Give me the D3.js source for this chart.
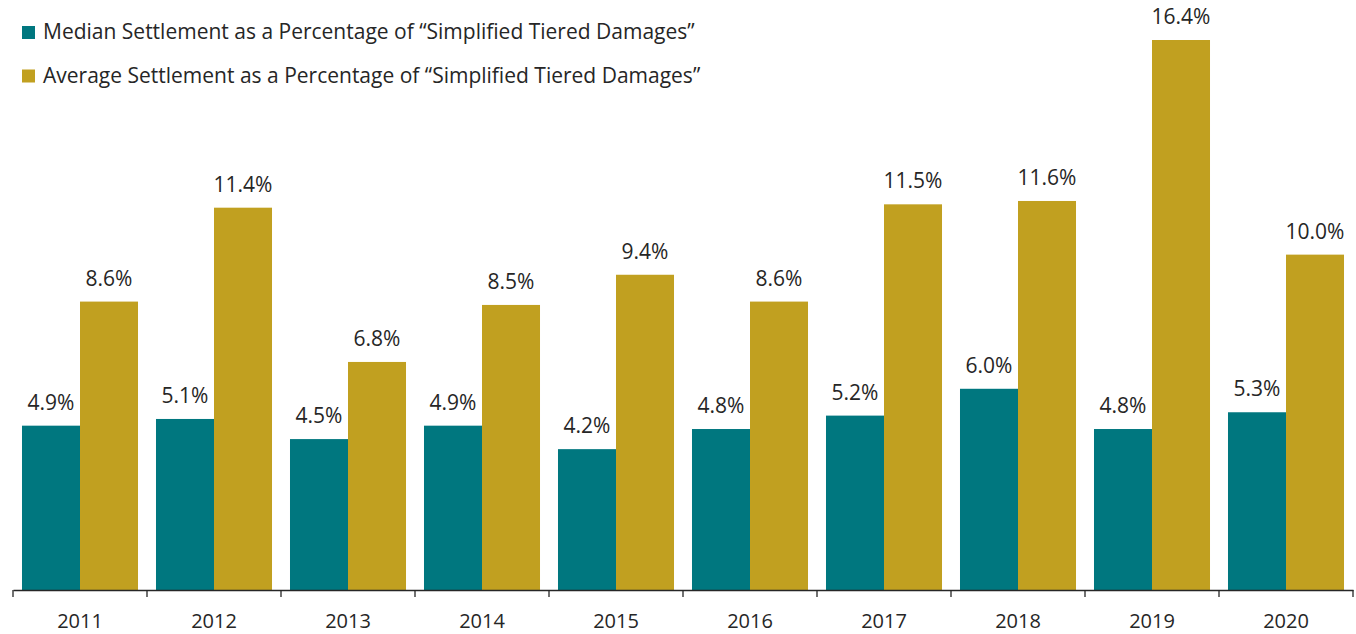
<!DOCTYPE html>
<html>
<head>
<meta charset="utf-8">
<script src="https://cdn.jsdelivr.net/npm/d3@7"></script>
<style>
  body { margin: 0; background: #fff; }
  text { font-family: "Open Sans", sans-serif; fill: #262626; }
</style>
</head>
<body>
<svg id="chart"></svg>
<script>
(function() {
    const years = ['2011', '2012', '2013', '2014', '2015', '2016', '2017', '2018', '2019', '2020'];
    const median = [4.9, 5.1, 4.5, 4.9, 4.2, 4.8, 5.2, 6.0, 4.8, 5.3];
    const average = [8.6, 11.4, 6.8, 8.5, 9.4, 8.6, 11.5, 11.6, 16.4, 10.0];
    const seriesNames = [
        'Median Settlement as a Percentage of \u201cSimplified Tiered Damages\u201d',
        'Average Settlement as a Percentage of \u201cSimplified Tiered Damages\u201d'
    ];
    const colors = ['#00777f', '#c1a020'];

    const width = 1356;
    const height = 634;
    const svg = d3.select('svg#chart')
        .attr('width', width)
        .attr('height', height);

    const rows = years.map((y, i) => ({ year: y, values: [median[i], average[i]] }));

    const xScale = d3.scaleBand()
        .range([13, 1353])
        .domain(years);

    const inner = d3.scaleBand()
        .range([0, xScale.bandwidth()])
        .domain([0, 1])
        .paddingInner(0)
        .paddingOuter(0.155);

    const yScale = d3.scaleLinear()
        .range([590, 40])
        .domain([0, d3.max(average)]);

    const groups = svg.selectAll('g.year')
        .data(rows)
        .enter()
        .append('g')
        .attr('class', 'year')
        .attr('transform', (d) => `translate(${xScale(d.year)}, 0)`);

    groups.selectAll('rect')
        .data((d) => d.values)
        .enter()
        .append('rect')
        .attr('x', (v, i) => inner(i))
        .attr('y', (v) => yScale(v))
        .attr('width', inner.bandwidth())
        .attr('height', (v) => yScale(0) - yScale(v))
        .attr('fill', (v, i) => colors[i]);

    groups.selectAll('text.value')
        .data((d) => d.values)
        .enter()
        .append('text')
        .attr('class', 'value')
        .attr('x', (v, i) => inner(i) + inner.bandwidth() / 2)
        .attr('y', (v) => yScale(v) - 16)
        .attr('text-anchor', 'middle')
        .style('font-size', '21px')
        .text((v) => v.toFixed(1) + '%');

    // axis: labels centred under each year, ticks on the band edges
    const axis = svg.append('g')
        .attr('transform', `translate(0, ${yScale(0)})`)
        .call(d3.axisBottom(xScale).tickSize(0).tickPadding(24));
    axis.select('.domain').attr('stroke', '#262626').attr('stroke-width', 1.3);
    axis.selectAll('text')
        .style('font-size', '20px')
        .style('font-family', '"Open Sans", sans-serif')
        .attr('fill', '#262626');

    const edges = years.map((y) => xScale(y)).concat([xScale.range()[1]]);
    axis.selectAll('line.edge')
        .data(edges)
        .enter()
        .append('line')
        .attr('class', 'edge')
        .attr('x1', (d) => d)
        .attr('x2', (d) => d)
        .attr('y1', 0)
        .attr('y2', 7)
        .attr('stroke', '#262626')
        .attr('stroke-width', 1.3);

    const legend = svg.selectAll('g.legend')
        .data(seriesNames)
        .enter()
        .append('g')
        .attr('class', 'legend')
        .attr('transform', (d, i) => `translate(22, ${26 + i * 43.5})`);

    legend.append('rect')
        .attr('width', 13)
        .attr('height', 13)
        .attr('fill', (d, i) => colors[i]);

    legend.append('text')
        .attr('x', 21)
        .attr('y', 13)
        .style('font-size', '21px')
        .text((d) => d);
})();
</script>
</body>
</html>
